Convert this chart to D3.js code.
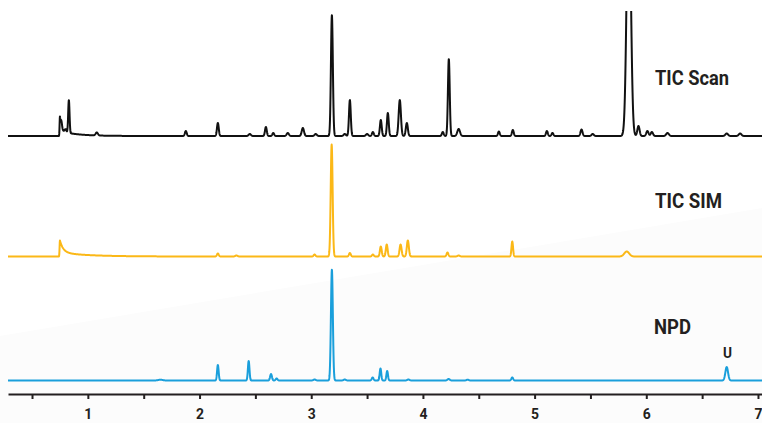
<!DOCTYPE html>
<html>
<head>
<meta charset="utf-8">
<script src="https://cdn.jsdelivr.net/npm/d3@7"></script>
<style>
  body { margin: 0; background: #fff; }
  svg { display: block; }
  .label { font-family: Roboto, "Liberation Sans", Arial, sans-serif; font-weight: bold; fill: #231f20; }
  .axis text { font-family: Roboto, "Liberation Sans", Arial, sans-serif; font-weight: bold; font-size: 15px; fill: #231f20; }
</style>
</head>
<body>
<svg width="762" height="423"></svg>
<script>
// **** Peak tables: [retention time (min), height, width, tail] ****

var scanPeaks = [
  [0.75, 14, 0.003, 0.012], [0.75, 5, 0.003, 0.15],
  [0.763, 6, 0.006], [0.80, 3, 0.008], [0.83, 33, 0.006],
  [1.08, 3, 0.01], [1.877, 5, 0.008], [2.164, 13, 0.008], [2.45, 2, 0.01],
  [2.594, 9, 0.008], [2.66, 3, 0.008], [2.79, 3, 0.01], [2.925, 8, 0.01],
  [3.04, 2, 0.01], [3.185, 121, 0.0085], [3.30, 2, 0.01], [3.346, 36, 0.008],
  [3.50, 2, 0.01], [3.552, 4, 0.008], [3.623, 16, 0.008], [3.686, 23, 0.008],
  [3.793, 36, 0.01], [3.856, 13, 0.009], [4.178, 4, 0.008], [4.232, 77, 0.008],
  [4.32, 7, 0.012], [4.68, 4.5, 0.008], [4.805, 6, 0.008], [5.11, 5, 0.008],
  [5.16, 3, 0.008], [5.42, 6.5, 0.009], [5.52, 2, 0.01], [5.843, 260, 0.018],
  [5.93, 10, 0.01], [6.01, 5, 0.01], [6.05, 4, 0.01], [6.19, 3, 0.012],
  [6.72, 2.5, 0.012], [6.84, 2.5, 0.012]
];

var simPeaks = [
  [0.75, 12, 0.003, 0.03], [0.75, 4, 0.003, 0.25],
  [2.164, 3, 0.008], [2.33, 1, 0.01], [3.03, 2, 0.008], [3.183, 112, 0.0085],
  [3.346, 3.5, 0.008], [3.552, 2, 0.008], [3.623, 10, 0.008], [3.676, 12, 0.008],
  [3.80, 12, 0.009], [3.865, 16, 0.009], [4.22, 4, 0.008], [4.32, 1, 0.01],
  [4.80, 15, 0.007], [5.825, 5, 0.022]
];

var npdPeaks = [
  [1.65, 0.8, 0.02], [2.164, 15.5, 0.007], [2.44, 19.5, 0.007], [2.64, 6.5, 0.008],
  [2.69, 2, 0.008], [3.03, 1, 0.01], [3.185, 111, 0.0085], [3.30, 1, 0.01],
  [3.55, 3, 0.008], [3.62, 12, 0.007], [3.68, 9.5, 0.007], [3.87, 1, 0.01],
  [4.23, 1.5, 0.01], [4.40, 0.8, 0.01], [4.80, 3, 0.008], [6.72, 13.5, 0.012]
];

var traceNames = ["TIC Scan", "TIC SIM", "NPD"];
var traceColors = ["#111111", "#fbb817", "#1a9fdb"];
var xTicks = [0.5, 1, 1.5, 2, 2.5, 3, 3.5, 4, 4.5, 5, 5.5, 6, 6.5, 7];

// **** Scales ****

var svg = d3.select("svg");

var xScale = d3.scaleLinear().domain([0.285, 7.036]).range([8, 762]);

var panels = [
  { peaks: scanPeaks, base: 136, label: [655, 85], width: 74 },
  { peaks: simPeaks, base: 256.5, label: [655, 208], width: 67 },
  { peaks: npdPeaks, base: 380.5, label: [654, 334], width: 37 }
];

// faint grey wedge in the background
svg.append("path")
  .attr("d", "M0,336 L762,208 L762,423 L0,423 Z")
  .attr("fill", "#fcfcfc");

svg.append("clipPath").attr("id", "clip")
  .append("rect").attr("x", 0).attr("y", 11).attr("width", 762).attr("height", 412);

function signal(peaks, t) {
  var s = 0;
  peaks.forEach(function(p) {
    var dt = t - p[0];
    if (p[3] && dt > 0) {
      s += p[1] * Math.exp(-dt / p[3]);
    } else {
      s += p[1] * Math.exp(-dt * dt / (2 * p[2] * p[2]));
    }
  });
  return s;
}

var times = d3.range(0.285, 7.04, 0.0015);

panels.forEach(function(panel, i) {
  var yScale = d3.scaleLinear().domain([0, 125]).range([panel.base, panel.base - 125]);
  var line = d3.line()
    .x(function(t) { return xScale(t); })
    .y(function(t) { return yScale(signal(panel.peaks, t)); });

  svg.append("path")
    .datum(times)
    .attr("clip-path", "url(#clip)")
    .attr("fill", "none")
    .attr("stroke", traceColors[i])
    .attr("stroke-width", 2)
    .attr("stroke-linejoin", "round")
    .attr("d", line);

  svg.append("text")
    .attr("class", "label")
    .attr("x", panel.label[0])
    .attr("y", panel.label[1])
    .attr("textLength", panel.width)
    .attr("lengthAdjust", "spacingAndGlyphs")
    .style("font-size", "21px")
    .text(traceNames[i]);
});

svg.append("text")
  .attr("class", "label")
  .attr("x", 723)
  .attr("y", 358)
  .attr("textLength", 9)
  .attr("lengthAdjust", "spacingAndGlyphs")
  .style("font-size", "15px")
  .text("U");

// **** Axis ****

var axis = svg.append("g").attr("class", "axis")
  .attr("transform", "translate(0,394)")
  .call(d3.axisBottom(xScale)
    .tickValues(xTicks)
    .tickSize(5)
    .tickSizeOuter(0)
    .tickFormat(function(d) { return d % 1 === 0 ? d : ""; }));

axis.select(".domain").attr("stroke", "#231f20").attr("stroke-width", 2);
axis.selectAll(".tick line").attr("stroke", "#231f20").attr("stroke-width", 2);
axis.selectAll(".tick text").attr("y", 25).attr("dy", 0)
  .attr("textLength", 8).attr("lengthAdjust", "spacingAndGlyphs");
</script>
</body>
</html>
